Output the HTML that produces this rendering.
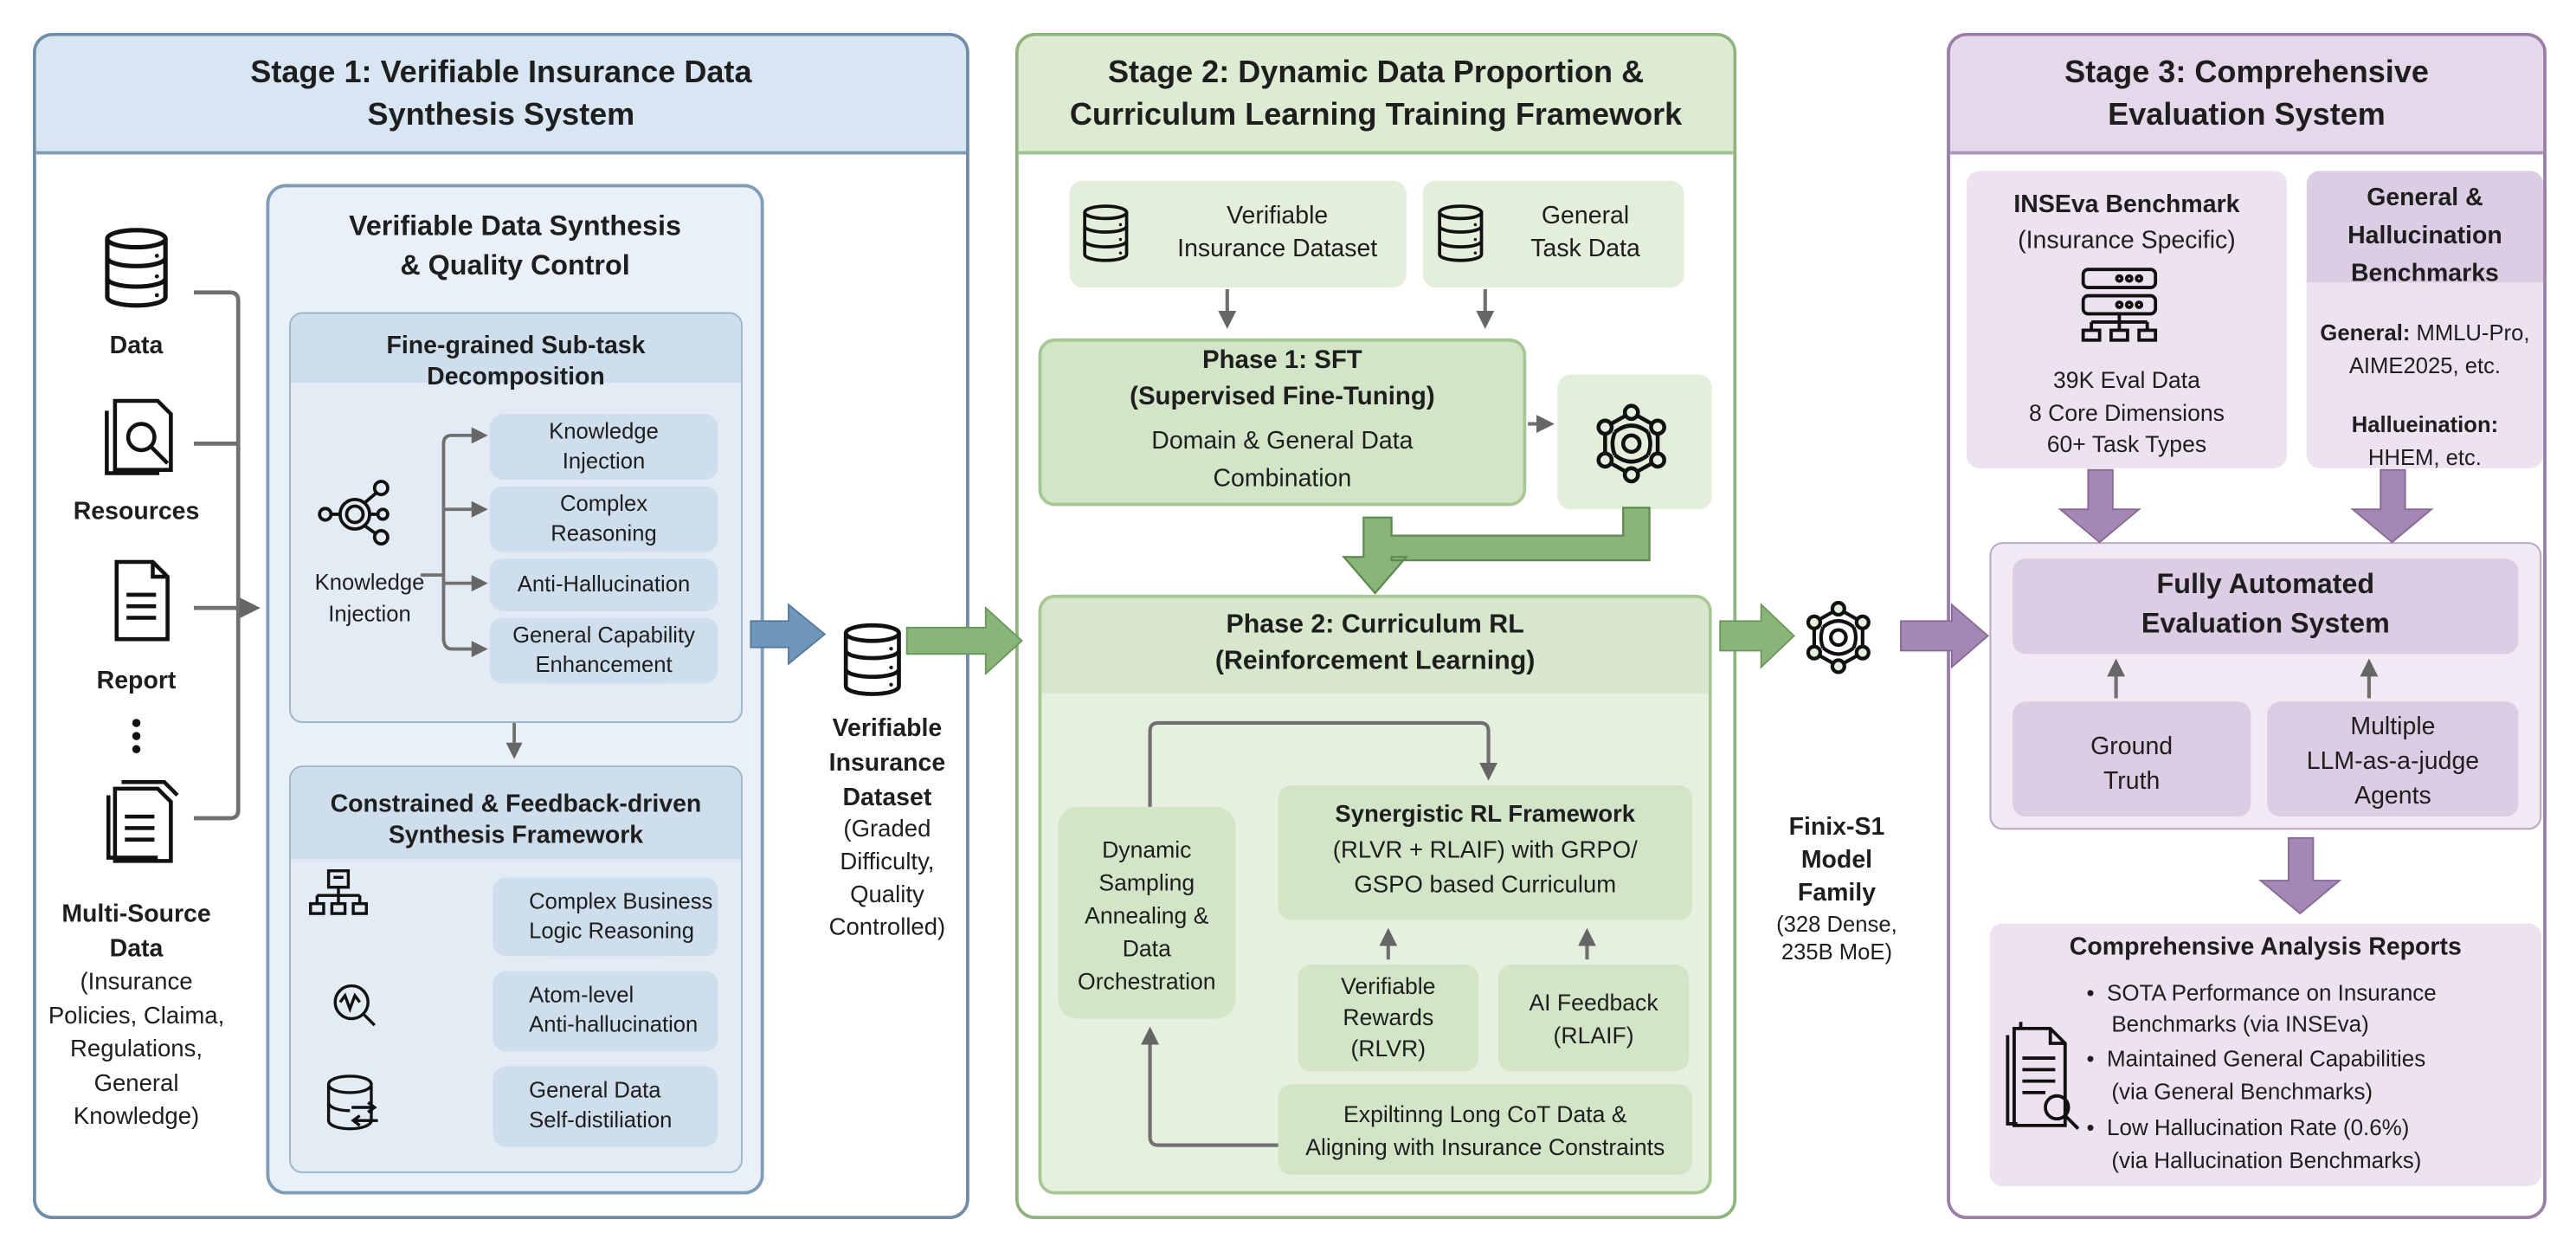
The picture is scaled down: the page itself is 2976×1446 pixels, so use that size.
<!DOCTYPE html>
<html><head><meta charset="utf-8"><style>
*{margin:0;padding:0;box-sizing:border-box}
html,body{width:2976px;height:1446px;overflow:hidden;background:#fff}
#f{position:absolute;left:0;top:0;width:1568px;height:762px;transform:scale(1.898,1.8976);transform-origin:0 0;font-family:"Liberation Sans",sans-serif;color:#1e1e1e}
.a{position:absolute}
.t{position:absolute;text-align:center;white-space:nowrap}
.b{font-weight:bold}
.stage{position:absolute;border:2px solid;border-radius:12px;overflow:hidden;background:#fff}
.hd{position:absolute;left:0;right:0;top:0;height:72px;border-bottom:2px solid}
.bx{position:absolute;border-radius:8px}
svg{position:absolute;left:0;top:0;overflow:visible}
</style></head><body><div id="f">

<!-- Stage 1 -->
<div class="stage" style="left:20px;top:20px;width:570px;height:722px;border-color:#6f8ca8"><div class="hd" style="background:#d8e6f3;border-color:#7f9cb8"></div></div>
<div class="t b" style="left:20px;width:570px;top:32px;font-size:19px;line-height:26px">Stage 1: Verifiable Insurance Data<br>Synthesis System</div>

<div class="bx" style="left:162px;top:112px;width:303px;height:615px;background:#e9f0f7;border:2px solid #7f9cb8;border-radius:12px"></div>
<div class="t b" style="left:162px;width:303px;top:126px;font-size:17px;line-height:24px">Verifiable Data Synthesis<br>&amp; Quality Control</div>

<div class="bx" style="left:176px;top:190px;width:276px;height:250px;background:#e3ecf5;border:1.5px solid #9db4cb;overflow:hidden"><div class="a" style="left:0;right:0;top:0;height:42px;background:#cfdeec"></div></div>
<div class="t b" style="left:176px;width:276px;top:201px;font-size:15px;line-height:19px">Fine-grained Sub-task<br>Decomposition</div>
<div class="bx" style="left:298px;top:252px;width:139px;height:40px;background:#cfdeec"></div>
<div class="t" style="left:298px;width:139px;top:254px;font-size:13.5px;line-height:18px">Knowledge<br>Injection</div>
<div class="bx" style="left:298px;top:296px;width:139px;height:40px;background:#cfdeec"></div>
<div class="t" style="left:298px;width:139px;top:298px;font-size:13.5px;line-height:18px">Complex<br>Reasoning</div>
<div class="bx" style="left:298px;top:340px;width:139px;height:32px;background:#cfdeec"></div>
<div class="t" style="left:298px;width:139px;top:347px;font-size:13.5px;line-height:18px">Anti-Hallucination</div>
<div class="bx" style="left:298px;top:376px;width:139px;height:40px;background:#cfdeec"></div>
<div class="t" style="left:298px;width:139px;top:378px;font-size:13.5px;line-height:18px">General Capability<br>Enhancement</div>
<div class="t" style="left:180px;width:90px;top:345px;font-size:13.5px;line-height:19px">Knowledge<br>Injection</div>

<div class="bx" style="left:176px;top:466px;width:276px;height:248px;background:#e3ecf5;border:1.5px solid #9db4cb;overflow:hidden"><div class="a" style="left:0;right:0;top:0;height:56px;background:#cfdeec"></div></div>
<div class="t b" style="left:176px;width:276px;top:480px;font-size:15px;line-height:19px">Constrained &amp; Feedback-driven<br>Synthesis Framework</div>
<div class="bx" style="left:300px;top:534px;width:137px;height:48px;background:#cfdeec"></div>
<div class="a" style="left:322px;top:540px;font-size:13.5px;line-height:18px">Complex Business<br>Logic Reasoning</div>
<div class="bx" style="left:300px;top:591px;width:137px;height:49px;background:#cfdeec"></div>
<div class="a" style="left:322px;top:597px;font-size:13.5px;line-height:18px">Atom-level<br>Anti-hallucination</div>
<div class="bx" style="left:300px;top:649px;width:137px;height:49px;background:#cfdeec"></div>
<div class="a" style="left:322px;top:655px;font-size:13.5px;line-height:18px">General Data<br>Self-distiliation</div>

<div class="t b" style="left:33px;width:100px;top:202px;font-size:15px">Data</div>
<div class="t b" style="left:33px;width:100px;top:303px;font-size:15px">Resources</div>
<div class="t b" style="left:33px;width:100px;top:406px;font-size:15px">Report</div>
<div class="t b" style="left:23px;width:120px;top:546px;font-size:15px;line-height:21px">Multi-Source<br>Data</div>
<div class="t" style="left:18px;width:130px;top:588px;font-size:14.5px;line-height:20.5px">(Insurance<br>Policies, Claima,<br>Regulations,<br>General<br>Knowledge)</div>

<div class="t b" style="left:490px;width:100px;top:433px;font-size:15px;line-height:21px">Verifiable<br>Insurance<br>Dataset</div>
<div class="t" style="left:490px;width:100px;top:495px;font-size:14.5px;line-height:20px">(Graded<br>Difficulty,<br>Quality<br>Controlled)</div>

<!-- Stage 2 -->
<div class="stage" style="left:618px;top:20px;width:439px;height:722px;border-color:#8fb47e"><div class="hd" style="background:#dcebd2;border-color:#9fc190"></div></div>
<div class="t b" style="left:618px;width:439px;top:32px;font-size:19px;line-height:26px">Stage 2: Dynamic Data Proportion &amp;<br>Curriculum Learning Training Framework</div>
<div class="bx" style="left:651px;top:110px;width:205px;height:65px;background:#e3eedb"></div>
<div class="t" style="left:700px;width:155px;top:122px;font-size:15px;line-height:20px">Verifiable<br>Insurance Dataset</div>
<div class="bx" style="left:866px;top:110px;width:159px;height:65px;background:#e3eedb"></div>
<div class="t" style="left:915px;width:100px;top:122px;font-size:15px;line-height:20px">General<br>Task Data</div>
<div class="bx" style="left:632px;top:206px;width:297px;height:102px;background:#d3e5c7;border:2px solid #a7c795;border-radius:10px"></div>
<div class="t b" style="left:632px;width:297px;top:209px;font-size:15.5px;line-height:22px">Phase 1: SFT<br>(Supervised Fine-Tuning)</div>
<div class="t" style="left:632px;width:297px;top:257px;font-size:15px;line-height:23px">Domain &amp; General Data<br>Combination</div>
<div class="bx" style="left:948px;top:228px;width:94px;height:82px;background:#e3eedb"></div>

<div class="bx" style="left:632px;top:362px;width:410px;height:365px;background:#e6f0df;border:2px solid #a7c795;border-radius:10px;overflow:hidden"><div class="a" style="left:0;right:0;top:0;height:58px;background:#d6e7cb"></div></div>
<div class="t b" style="left:632px;width:410px;top:370px;font-size:16px;line-height:22px">Phase 2: Curriculum RL<br>(Reinforcement Learning)</div>
<div class="bx" style="left:644px;top:491px;width:108px;height:129px;background:#d3e5c7;border-radius:12px"></div>
<div class="t" style="left:644px;width:108px;top:507px;font-size:14px;line-height:20px">Dynamic<br>Sampling<br>Annealing &amp;<br>Data<br>Orchestration</div>
<div class="bx" style="left:778px;top:478px;width:252px;height:82px;background:#d3e5c7"></div>
<div class="t" style="left:778px;width:252px;top:486px;font-size:14.5px;line-height:21.5px"><b>Synergistic RL Framework</b><br>(RLVR + RLAIF) with GRPO/<br>GSPO based Curriculum</div>
<div class="bx" style="left:790px;top:587px;width:110px;height:65px;background:#d3e5c7"></div>
<div class="t" style="left:790px;width:110px;top:591px;font-size:14px;line-height:19px">Verifiable<br>Rewards<br>(RLVR)</div>
<div class="bx" style="left:912px;top:587px;width:116px;height:65px;background:#d3e5c7"></div>
<div class="t" style="left:912px;width:116px;top:600px;font-size:14px;line-height:20px">AI Feedback<br>(RLAIF)</div>
<div class="bx" style="left:778px;top:660px;width:252px;height:55px;background:#d3e5c7"></div>
<div class="t" style="left:778px;width:252px;top:668px;font-size:14px;line-height:20px">Expiltinng Long CoT Data &amp;<br>Aligning with Insurance Constraints</div>

<div class="t b" style="left:1070px;width:96px;top:494px;font-size:15px;line-height:20px">Finix-S1<br>Model<br>Family</div>
<div class="t" style="left:1068px;width:100px;top:554px;font-size:13.5px;line-height:17px">(328 Dense,<br>235B MoE)</div>

<!-- Stage 3 -->
<div class="stage" style="left:1185px;top:20px;width:365px;height:722px;border-color:#9a7ea8"><div class="hd" style="background:#e4d8ea;border-color:#ad95b8"></div></div>
<div class="t b" style="left:1185px;width:365px;top:32px;font-size:19px;line-height:26px">Stage 3: Comprehensive<br>Evaluation System</div>
<div class="bx" style="left:1197px;top:104px;width:195px;height:181px;background:#ede2f0"></div>
<div class="t" style="left:1197px;width:195px;top:114px;font-size:15px;line-height:22px"><b>INSEva Benchmark</b><br>(Insurance Specific)</div>
<div class="t" style="left:1197px;width:195px;top:222px;font-size:14px;line-height:19.5px">39K Eval Data<br>8 Core Dimensions<br>60+ Task Types</div>
<div class="bx" style="left:1404px;top:104px;width:144px;height:181px;background:#ede2f0;overflow:hidden"><div class="a" style="left:0;right:0;top:0;height:68px;background:#ddcde4"></div></div>
<div class="t b" style="left:1404px;width:144px;top:109px;font-size:15px;line-height:23px">General &amp;<br>Hallucination<br>Benchmarks</div>
<div class="t" style="left:1404px;width:144px;top:193px;font-size:13.5px;line-height:20px"><b>General:</b> MMLU-Pro,<br>AIME2025, etc.</div>
<div class="t" style="left:1404px;width:144px;top:249px;font-size:13.5px;line-height:20px"><b>Hallueination:</b><br>HHEM, etc.</div>

<div class="bx" style="left:1211px;top:330px;width:336px;height:175px;background:#f1e9f3;border:1.5px solid #b9a2c4"></div>
<div class="bx" style="left:1225px;top:340px;width:308px;height:58px;background:#ddcde4"></div>
<div class="t b" style="left:1225px;width:308px;top:344px;font-size:17px;line-height:24px">Fully Automated<br>Evaluation System</div>
<div class="bx" style="left:1225px;top:427px;width:145px;height:70px;background:#ddcde4"></div>
<div class="t" style="left:1225px;width:145px;top:444px;font-size:15px;line-height:21px">Ground<br>Truth</div>
<div class="bx" style="left:1380px;top:427px;width:153px;height:70px;background:#ddcde4"></div>
<div class="t" style="left:1380px;width:153px;top:432px;font-size:15px;line-height:21px">Multiple<br>LLM-as-a-judge<br>Agents</div>

<div class="bx" style="left:1211px;top:562px;width:336px;height:160px;background:#ede2f0"></div>
<div class="t b" style="left:1211px;width:336px;top:568px;font-size:15px">Comprehensive Analysis Reports</div>
<div class="a" style="left:1270px;top:596px;font-size:13.7px;line-height:18.5px">•&nbsp; SOTA Performance on Insurance<br>&nbsp;&nbsp;&nbsp; Benchmarks (via INSEva)<br><span style="line-height:23px">•&nbsp; Maintained General Capabilities</span><br>&nbsp;&nbsp;&nbsp; (via General Benchmarks)<br><span style="line-height:23px">•&nbsp; Low Hallucination Rate (0.6%)</span><br>&nbsp;&nbsp;&nbsp; (via Hallucination Benchmarks)</div>

<svg width="1568" height="762" viewBox="0 0 1568 762">
<defs>
<symbol id="db" viewBox="0 0 40 48"><g fill="none" stroke="#111" stroke-width="2.6"><ellipse cx="20" cy="7" rx="17" ry="5"/><path d="M3 7v34c0 3 8 5 17 5s17-2 17-5V7"/><path d="M3 18c0 3 8 5 17 5s17-2 17-5M3 30c0 3 8 5 17 5s17-2 17-5"/></g><g fill="#111"><circle cx="32" cy="17" r="1.2"/><circle cx="32" cy="29" r="1.2"/><circle cx="32" cy="40" r="1.2"/></g></symbol>
<symbol id="net" viewBox="0 0 50 50"><g fill="none" stroke="#111" stroke-width="2.4"><path d="M25 6L9 15v20l16 9 16-9V15z"/><circle cx="25" cy="25" r="5"/><path d="M15 18q10-8 20 0M15 32q10 8 20 0M15 18q-3 7 0 14M35 18q3 7 0 14"/><circle cx="25" cy="6" r="4" fill="#e6f0df"/><circle cx="9" cy="15" r="4" fill="#e6f0df"/><circle cx="41" cy="15" r="4" fill="#e6f0df"/><circle cx="9" cy="35" r="4" fill="#e6f0df"/><circle cx="41" cy="35" r="4" fill="#e6f0df"/><circle cx="25" cy="44" r="4" fill="#e6f0df"/></g></symbol>
<marker id="ah" viewBox="0 0 10 10" refX="8" refY="5" markerWidth="5" markerHeight="5" orient="auto"><path d="M0 0L10 5L0 10z" fill="#666"/></marker>
</defs>
<use href="#db" x="62" y="138" width="42" height="50"/>
<g fill="none" stroke="#111" stroke-width="2.4"><path d="M65 250v38h32M70 244h26l8 8v34H70z"/><circle cx="86" cy="266" r="8"/><path d="M92 272l10 10"/><path d="M71 342h22l9 9v38H71zM93 342v9h9M77 362h18M77 369h18M77 376h18"/><path d="M66 484v38h30M70 480h26l8 8v36H70zM74 476h26l8 8M76 497h18M76 504h18M76 511h18"/></g>
<g fill="#111"><circle cx="83" cy="440" r="2.5"/><circle cx="83" cy="448" r="2.5"/><circle cx="83" cy="456" r="2.5"/></g>
<g fill="none" stroke="#707070" stroke-width="2.5">
<path d="M118 178h22q5 0 5 5v310q0 5-5 5h-22"/>
<path d="M118 270h27"/>
<path d="M118 370h38" marker-end="url(#ah)"/>
</g>
<g fill="none" stroke="#111" stroke-width="2"><circle cx="216" cy="313" r="9"/><circle cx="216" cy="313" r="5"/><circle cx="198" cy="313" r="3.5"/><circle cx="232" cy="297" r="4"/><circle cx="233" cy="313" r="3"/><circle cx="232" cy="327" r="4"/><path d="M202 313h5M222 306l7-6M225 313h5M222 320l7 5"/></g>
<g fill="none" stroke="#707070" stroke-width="2">
<path d="M256 350h14"/>
<path d="M270 390V270q0-5 5-5h20" marker-end="url(#ah)"/>
<path d="M270 310h25" marker-end="url(#ah)"/>
<path d="M270 355h25" marker-end="url(#ah)"/>
<path d="M270 388q0 7 5 7h20" marker-end="url(#ah)"/>
<path d="M313 440v20" marker-end="url(#ah)"/>
</g>
<g fill="none" stroke="#111" stroke-width="1.8"><rect x="200" y="530" width="12" height="10"/><path d="M203 534h6M206 540v5M193 545h26M193 545v5M206 545v5M219 545v5"/><rect x="189" y="550" width="8" height="6"/><rect x="202" y="550" width="8" height="6"/><rect x="215" y="550" width="8" height="6"/><circle cx="214" cy="610" r="10"/><path d="M207 610l3-4 3 8 3-8 3 4M221 617l7 7"/><path d="M200 660c0-3 6-5 13-5s13 2 13 5v22c0 3-6 5-13 5s-13-2-13-5zM200 660c0 3 6 5 13 5s13-2 13-5M200 671c0 3 6 5 13 5M214 674h14M224 671l4 3-4 3M230 682h-14M219 679l-4 3 4 3"/></g>
<polygon points="457,378 480,378 480,368 502,386 480,404 480,394 457,394" fill="#7096bb" stroke="#557a9c" stroke-width="1"/>
<use href="#db" x="512" y="378" width="38" height="47"/>
<polygon points="552,382 600,382 600,370 622,390 600,410 600,398 552,398" fill="#8ab578" stroke="#6d985c" stroke-width="1"/>
<use href="#db" x="658" y="123" width="30" height="38"/>
<use href="#db" x="874" y="123" width="30" height="38"/>
<g fill="none" stroke="#707070" stroke-width="2.2">
<path d="M747 176v22" marker-end="url(#ah)"/>
<path d="M904 176v22" marker-end="url(#ah)"/>
<path d="M930 258h14" marker-end="url(#ah)"/>
<path d="M700 491v-46q0-5 5-5h196q5 0 5 5v28" marker-end="url(#ah)"/>
<path d="M778 697h-73q-5 0-5-5v-65" marker-end="url(#ah)"/>
<path d="M845 584v-17" marker-end="url(#ah)"/>
<path d="M966 584v-17" marker-end="url(#ah)"/>
</g>
<use href="#net" x="968" y="245" width="50" height="50"/>
<polygon points="988,309 1004,309 1004,341 847,341 847,339 856,339 837,361 818,339 830,339 830,315 847,315 847,326 988,326" fill="#8ab578" stroke="#5f8a4e" stroke-width="1.2"/>
<polygon points="1047,378 1072,378 1072,368 1092,387 1072,406 1072,396 1047,396" fill="#8ab578" stroke="#6d985c" stroke-width="1"/>
<use href="#net" x="1096" y="364" width="46" height="48"/>
<polygon points="1157,378 1188,378 1188,368 1210,387 1188,406 1188,396 1157,396" fill="#a587b3" stroke="#876a95" stroke-width="1"/>
<g fill="none" stroke="#111" stroke-width="2"><rect x="1268" y="164" width="44" height="11" rx="3"/><rect x="1268" y="180" width="44" height="11" rx="3"/><circle cx="1290" cy="169.5" r="1.6"/><circle cx="1296" cy="169.5" r="1.6"/><circle cx="1302" cy="169.5" r="1.6"/><circle cx="1290" cy="185.5" r="1.6"/><circle cx="1296" cy="185.5" r="1.6"/><circle cx="1302" cy="185.5" r="1.6"/><path d="M1290 191v5M1273 196h34M1273 196v5M1290 196v5M1307 196v5"/><rect x="1268" y="201" width="10" height="6"/><rect x="1285" y="201" width="10" height="6"/><rect x="1302" y="201" width="10" height="6"/></g>
<polygon points="1271,286 1286,286 1286,310 1302,310 1278,330 1254,310 1271,310" fill="#a587b3" stroke="#876a95"/>
<polygon points="1449,286 1464,286 1464,310 1480,310 1456,330 1432,310 1449,310" fill="#a587b3" stroke="#876a95"/>
<polygon points="1393,510 1408,510 1408,536 1424,536 1400,556 1376,536 1393,536" fill="#a587b3" stroke="#876a95"/>
<g fill="none" stroke="#707070" stroke-width="2.2"><path d="M1288 425v-22" marker-end="url(#ah)"/><path d="M1442 425v-22" marker-end="url(#ah)"/></g>
<g fill="none" stroke="#111" stroke-width="2"><path d="M1222 630v54h6M1226 626h22l9 9v50h-31z"/><path d="M1230 622v4M1248 626v9h9M1231 644h20M1231 651h20M1231 658h20M1231 665h14"/><circle cx="1252" cy="674" r="7"/><path d="M1257 679l8 8"/></g>
</svg>
</div></body></html>
